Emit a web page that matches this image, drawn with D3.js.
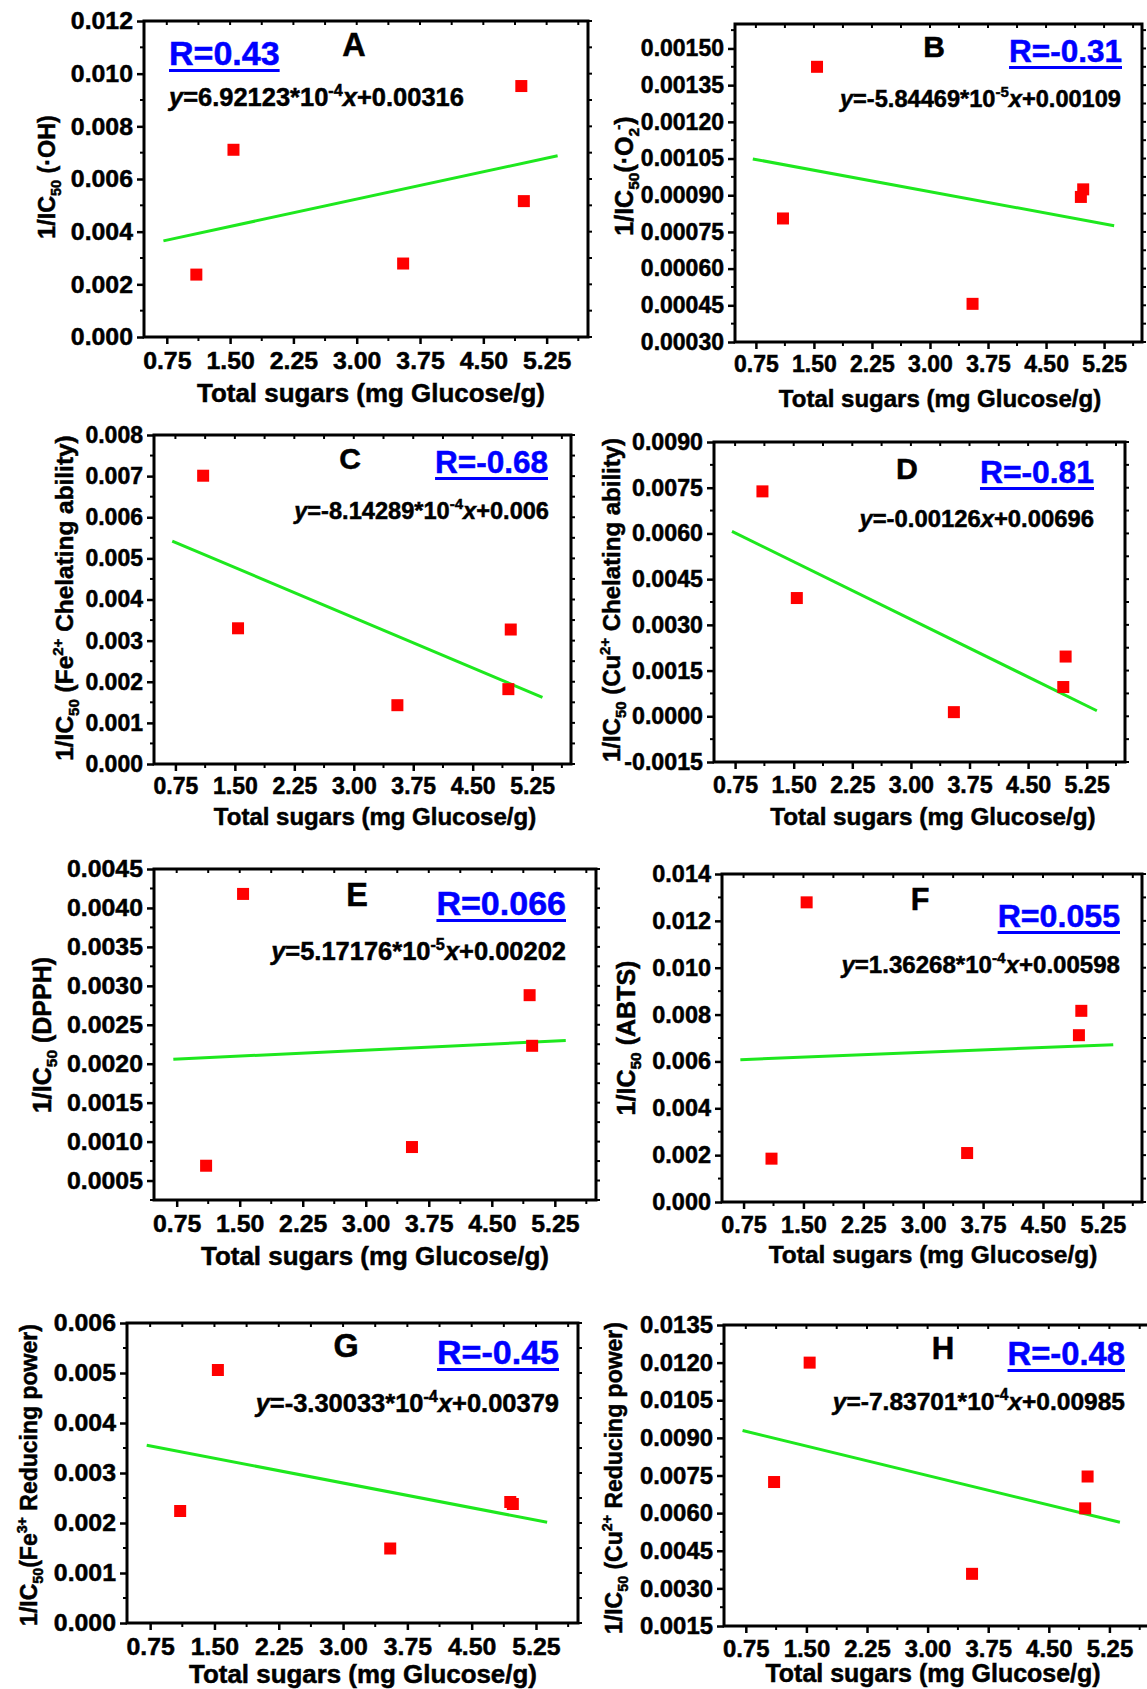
<!DOCTYPE html>
<html>
<head>
<meta charset="utf-8">
<script src="https://cdn.jsdelivr.net/npm/d3@7/dist/d3.min.js"></script>
<style>
  body { margin: 0; background: #fff; }
  svg text { font-family: "Liberation Sans", Arial, sans-serif; font-weight: bold; stroke-width: 0.5px; }
</style>
</head>
<body>
<div id="container"></div>
<script>
const W = 1147, H = 1689;

// total sugars (mg Glucose/g), same five samples in every panel
const sugars = [1.1, 1.54, 3.55, 4.95, 4.98];
const xTicks = [0.75, 1.5, 2.25, 3.0, 3.75, 4.5, 5.25];

const panels = ["A", "B", "C", "D", "E", "F", "G", "H"];

// 1/IC50 values, in the order of sugars
const valuesA = [0.00237, 0.00711, 0.00279, 0.00953, 0.00516];
const valuesB = [0.000805, 0.001425, 0.000456, 0.000893, 0.000924];
const valuesC = [0.00701, 0.0033, 0.00143, 0.00182, 0.00327];
const valuesD = [0.00738, 0.00388, 0.000136, 0.00096, 0.00196];
const valuesE = [0.00069, 0.00418, 0.00093, 0.00288, 0.00223];
const valuesF = [0.00185, 0.01279, 0.00209, 0.00712, 0.00816];
const valuesG = [0.00224, 0.00506, 0.00149, 0.00242, 0.00238];
const valuesH = [0.00724, 0.0120, 0.00358, 0.00619, 0.00746];
const values = [valuesA, valuesB, valuesC, valuesD, valuesE, valuesF, valuesG, valuesH];

// linear fits as printed on the figure
const slopes = [6.92123e-4, -5.84469e-5, -8.14289e-4, -0.00126, 5.17176e-5, 1.36268e-4, -3.30033e-4, -7.83701e-4];
const intercepts = [0.00316, 0.00109, 0.006, 0.00696, 0.00202, 0.00598, 0.00379, 0.00985];
const slopeText = ["6.92123", "-5.84469", "-8.14289", "-0.00126", "5.17176", "1.36268", "-3.30033", "-7.83701"];
const slopeExp = ["-4", "-5", "-4", "", "-5", "-4", "-4", "-4"];
const interceptText = ["0.00316", "0.00109", "0.006", "0.00696", "0.00202", "0.00598", "0.00379", "0.00985"];
const rLabels = ["R=0.43", "R=-0.31", "R=-0.68", "R=-0.81", "R=0.066", "R=0.055", "R=-0.45", "R=-0.48"];

const yDomains = [[0, 0.012], [0.0003, 0.0016], [0, 0.008], [-0.0015, 0.009],
                  [0.00025, 0.0045], [0, 0.014], [0, 0.006], [0.0015, 0.0135]];
const yTicks = [
  [0, 0.002, 0.004, 0.006, 0.008, 0.010, 0.012],
  [0.0003, 0.00045, 0.0006, 0.00075, 0.0009, 0.00105, 0.0012, 0.00135, 0.0015],
  [0, 0.001, 0.002, 0.003, 0.004, 0.005, 0.006, 0.007, 0.008],
  [-0.0015, 0, 0.0015, 0.003, 0.0045, 0.006, 0.0075, 0.009],
  [0.0005, 0.001, 0.0015, 0.002, 0.0025, 0.003, 0.0035, 0.004, 0.0045],
  [0, 0.002, 0.004, 0.006, 0.008, 0.010, 0.012, 0.014],
  [0, 0.001, 0.002, 0.003, 0.004, 0.005, 0.006],
  [0.0015, 0.003, 0.0045, 0.006, 0.0075, 0.009, 0.0105, 0.012, 0.0135]
];
const yDecimals = [3, 5, 3, 4, 4, 3, 3, 4];

// y titles: [text, kind, dx]
const yTitles = [
  [["1/IC"], ["50", "sub"], [" (\u00b7OH)"]],
  [["1/IC"], ["50", "sub"], ["(\u00b7O"], ["2", "sub"], ["-", "sup", -2], [")"]],
  [["1/IC"], ["50", "sub"], [" (Fe"], ["2+", "sup"], [" Chelating ability)"]],
  [["1/IC"], ["50", "sub"], [" (Cu"], ["2+", "sup"], [" Chelating ability)"]],
  [["1/IC"], ["50", "sub"], [" (DPPH)"]],
  [["1/IC"], ["50", "sub"], [" (ABTS)"]],
  [["1/IC"], ["50", "sub"], ["(Fe"], ["3+", "sup"], [" Reducing power)"]],
  [["1/IC"], ["50", "sub"], [" (Cu"], ["2+", "sup"], [" Reducing power)"]]
];
const xTitle = "Total sugars (mg Glucose/g)";

// layout (pixels)
const xDomain = [0.48, 5.74];
const fitRange = [0.71, 5.38];
const frames = [
  [144, 21, 588, 337], [735, 24, 1142, 342],
  [154, 435, 571, 764], [714, 442, 1125, 762],
  [154, 869, 596, 1200], [722, 874, 1142, 1202],
  [127, 1323, 578, 1623], [724, 1325, 1149, 1626]
];
// the panels were pasted at slightly different scales
const fontScale = [1.08, 1, 1, 1.01, 1.08, 1.02, 1.08, 1.04];
const yTitleSize = [23.3, 25, 24.4, 24, 25, 25, 23, 23];
const yTitlePos = [[55, 177], [633, 176], [73, 598], [620, 600], [51, 1035], [635, 1038], [37, 1475], [622, 1478]];
const xTitlePos = [[371, 402], [940, 407], [375, 825], [933, 825], [375, 1265], [933, 1263], [363, 1683], [933, 1682]];
const letterPos = [[354, 56], [934, 57], [350, 469], [907, 479], [357, 906], [920, 910], [346, 1357], [943, 1359]];
// [x, y, anchor]
const rPos = [[169, 65, "start"], [1122, 62, "end"], [548, 473, "end"], [1094, 483, "end"],
              [566, 915, "end"], [1120, 927, "end"], [559, 1364, "end"], [1125, 1365, "end"]];
const eqPos = [[169, 106, "start"], [1121, 107, "end"], [549, 519, "end"], [1094, 527, "end"],
               [566, 960, "end"], [1120, 973, "end"], [559, 1412, "end"], [1125, 1410, "end"]];

function minorTicks(major, domain) {
  const step = (major[1] - major[0]) / 2;
  const out = [];
  for (let k = 0; ; k += 2) {
    const v = major[0] - step + k * step;
    if (v > domain[1] + 1e-12) break;
    if (v >= domain[0] - 1e-12) out.push(v);
  }
  return out;
}

function richText(sel, parts, small) {
  let shift = 0;
  parts.forEach(([t, kind, dx]) => {
    const target = kind === "sub" ? 6 : kind === "sup" ? -10 : 0;
    const ts = sel.append("tspan").text(t).attr("dy", target - shift);
    if (kind === "sub" || kind === "sup") ts.attr("font-size", small);
    if (kind === "it") ts.attr("font-style", "italic");
    if (dx) ts.attr("dx", dx);
    shift = target;
  });
}

const svg = d3.select("#container").append("svg")
  .attr("width", W).attr("height", H)
  .style("background", "#fff");

panels.forEach((name, i) => {
  const [x0, y0, x1, y1] = frames[i];
  const k = fontScale[i];
  const x = d3.scaleLinear().domain(xDomain).range([x0, x1]);
  const y = d3.scaleLinear().domain(yDomains[i]).range([y1, y0]);
  const g = svg.append("g").attr("class", "panel").attr("id", "panel" + name);

  const xa = g.append("g").attr("transform", `translate(0,${y1})`)
    .call(d3.axisBottom(x).tickValues(xTicks).tickFormat(d => d.toFixed(2))
      .tickSize(7).tickSizeOuter(0).tickPadding(7 * k));
  const ya = g.append("g").attr("transform", `translate(${x0},0)`)
    .call(d3.axisLeft(y).tickValues(yTicks[i]).tickFormat(d => d.toFixed(yDecimals[i]))
      .tickSize(7).tickSizeOuter(0).tickPadding(4));
  [xa, ya].forEach(a => {
    a.attr("font-size", 23 * k).attr("font-family", null);
    a.select(".domain").remove();
    a.selectAll(".tick line").attr("stroke", "#000").attr("stroke-width", 2.5);
    a.selectAll(".tick text").attr("fill", "#000").attr("stroke", "#000");
  });

  // minor ticks, plus small ticks on top / right edges
  const xMinor = minorTicks(xTicks, xDomain);
  const yMinor = minorTicks(yTicks[i], yDomains[i]);
  const ticks = g.append("g").attr("stroke", "#000").attr("stroke-width", 2);
  ticks.selectAll(".xm").data(xMinor).join("line").attr("class", "xm")
    .attr("x1", d => x(d)).attr("x2", d => x(d)).attr("y1", y1).attr("y2", y1 + 4);
  ticks.selectAll(".ym").data(yMinor).join("line").attr("class", "ym")
    .attr("x1", x0).attr("x2", x0 - 4).attr("y1", d => y(d)).attr("y2", d => y(d));
  ticks.selectAll(".xt").data(xTicks.concat(xMinor)).join("line").attr("class", "xt")
    .attr("x1", d => x(d)).attr("x2", d => x(d)).attr("y1", y0).attr("y2", y0 + 4);
  ticks.selectAll(".yr").data(yTicks[i].concat(yMinor)).join("line").attr("class", "yr")
    .attr("x1", x1).attr("x2", x1 + 4).attr("y1", d => y(d)).attr("y2", d => y(d));

  g.append("rect")
    .attr("x", x0).attr("y", y0).attr("width", x1 - x0).attr("height", y1 - y0)
    .attr("fill", "none").attr("stroke", "#000").attr("stroke-width", 3);

  // fit line
  const fit = fitRange.map(v => [v, slopes[i] * v + intercepts[i]]);
  g.append("path")
    .attr("d", d3.line().x(d => x(d[0])).y(d => y(d[1]))(fit))
    .attr("fill", "none").attr("stroke", "#1ee81e").attr("stroke-width", 3);

  // data points
  const s = 12;
  g.selectAll(".pt").data(values[i]).join("rect").attr("class", "pt")
    .attr("x", (d, j) => x(sugars[j]) - s / 2)
    .attr("y", d => y(d) - s / 2)
    .attr("width", s).attr("height", s)
    .attr("fill", "#ff0000");

  // axis titles
  g.append("text")
    .attr("x", xTitlePos[i][0]).attr("y", xTitlePos[i][1])
    .attr("text-anchor", "middle").attr("font-size", 24 * k)
    .attr("fill", "#000").attr("stroke", "#000")
    .text(xTitle);
  const yt = g.append("text")
    .attr("transform", `translate(${yTitlePos[i][0]},${yTitlePos[i][1]}) rotate(-90)`)
    .attr("text-anchor", "middle").attr("font-size", yTitleSize[i])
    .attr("fill", "#000").attr("stroke", "#000");
  richText(yt, yTitles[i], yTitleSize[i] * 0.62);

  // panel letter
  g.append("text")
    .attr("x", letterPos[i][0]).attr("y", letterPos[i][1])
    .attr("text-anchor", "middle").attr("font-size", 30 * k)
    .attr("fill", "#000").attr("stroke", "#000")
    .text(name);

  // R value, underlined
  const rt = g.append("text")
    .attr("x", rPos[i][0]).attr("y", rPos[i][1])
    .attr("text-anchor", rPos[i][2]).attr("font-size", 31.5 * k)
    .attr("fill", "#0000ff").attr("stroke", "#0000ff")
    .text(rLabels[i]);
  const len = rt.node().getComputedTextLength();
  const ux = rPos[i][2] === "end" ? rPos[i][0] - len : rPos[i][0];
  g.append("rect")
    .attr("x", ux).attr("y", rPos[i][1] + 4)
    .attr("width", len).attr("height", 3)
    .attr("fill", "#0000ff");

  // fit equation
  const eq = g.append("text")
    .attr("x", eqPos[i][0]).attr("y", eqPos[i][1])
    .attr("text-anchor", eqPos[i][2]).attr("font-size", 23.6 * k)
    .attr("fill", "#000").attr("stroke", "#000");
  const parts = [["y", "it"], ["=" + slopeText[i]]];
  if (slopeExp[i]) parts.push(["*10"], [slopeExp[i], "sup"]);
  parts.push(["x", "it"], ["+" + interceptText[i]]);
  richText(eq, parts, 15 * k);
});
</script>
</body>
</html>
